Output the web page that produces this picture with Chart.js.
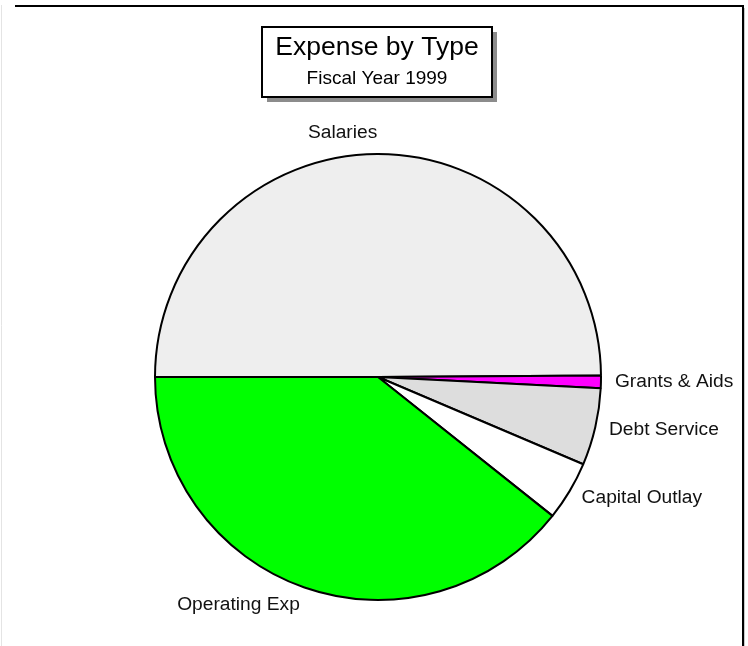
<!DOCTYPE html>
<html>
<head>
<meta charset="utf-8">
<script src="https://cdn.jsdelivr.net/npm/chart.js@4/dist/chart.umd.min.js"></script>
<style>
html,body{margin:0;padding:0;background:#fff;}
#wrap{position:relative;width:748px;height:646px;}
canvas{display:block;}
</style>
</head>
<body>
<div id="wrap"><canvas id="c" width="748" height="646"></canvas></div>
<script>
const categories = ["Salaries", "Grants & Aids", "Debt Service", "Capital Outlay", "Operating Exp"];
const values = [49.9, 0.9, 5.6, 4.3, 39.3];
const sliceColors = ["#eeeeee", "#ff00ff", "#dddddd", "#ffffff", "#00ff00"];
const titleText = "Expense by Type";
const subtitleText = "Fiscal Year 1999";

const FONT = '"Liberation Sans", Arial, sans-serif';

const framePlugin = {
  id: 'frame',
  beforeDraw(chart) {
    const ctx = chart.ctx;
    ctx.save();
    ctx.fillStyle = '#ffffff';
    ctx.fillRect(0, 0, chart.width, chart.height);
    ctx.strokeStyle = '#e4e4e4';
    ctx.lineWidth = 1;
    ctx.beginPath(); ctx.moveTo(1.5, 5); ctx.lineTo(1.5, chart.height); ctx.stroke();
    ctx.strokeStyle = '#000000';
    ctx.lineWidth = 2;
    ctx.beginPath();
    ctx.moveTo(15, 6); ctx.lineTo(743, 6); ctx.lineTo(743, chart.height);
    ctx.stroke();
    ctx.strokeStyle = '#c8c8c8';
    ctx.lineWidth = 1;
    ctx.beginPath(); ctx.moveTo(744.5, 8); ctx.lineTo(744.5, chart.height); ctx.stroke();
    ctx.restore();
  }
};

const titlePlugin = {
  id: 'titleBox',
  afterDraw(chart) {
    const ctx = chart.ctx;
    const x = 262, y = 27, w = 230, h = 70;
    ctx.save();
    ctx.fillStyle = '#8c8c8c';
    ctx.fillRect(x + 5, y + 5, w, h);
    ctx.fillStyle = '#ffffff';
    ctx.fillRect(x, y, w, h);
    ctx.strokeStyle = '#000';
    ctx.lineWidth = 2;
    ctx.strokeRect(x, y, w, h);
    ctx.fillStyle = '#000';
    ctx.textAlign = 'center';
    ctx.textBaseline = 'middle';
    ctx.font = '26.5px ' + FONT;
    ctx.fillText(titleText, x + w / 2, y + 21);
    ctx.font = '19px ' + FONT;
    ctx.fillText(subtitleText, x + w / 2, y + 52);
    ctx.restore();
  }
};

const labelPlugin = {
  id: 'sliceLabels',
  afterDatasetsDraw(chart) {
    const ctx = chart.ctx;
    const meta = chart.getDatasetMeta(0);
    ctx.save();
    ctx.fillStyle = '#111';
    ctx.font = '19.2px ' + FONT;
    meta.data.forEach((arc, i) => {
      const p = arc.getProps(['x', 'y', 'startAngle', 'endAngle', 'outerRadius'], true);
      const mid = (p.startAngle + p.endAngle) / 2;
      const c = Math.cos(mid), s = Math.sin(mid);
      const r = p.outerRadius + 14;
      const lx = p.x + r * c;
      const ly = p.y + r * s + 6 * s * s * s - 1;
      ctx.textAlign = c > 0.01 ? 'left' : 'right';
      ctx.textBaseline = 'middle';
      ctx.fillText(categories[i], lx, ly);
    });
    ctx.restore();
  }
};

new Chart(document.getElementById('c'), {
  type: 'pie',
  data: {
    labels: categories,
    datasets: [{
      data: values,
      backgroundColor: sliceColors,
      borderColor: '#000000',
      borderWidth: 2,
      borderAlign: 'center'
    }]
  },
  options: {
    responsive: false,
    animation: false,
    rotation: -90,
    layout: { padding: { top: 152, bottom: 44, left: 154, right: 146 } },
    plugins: {
      legend: { display: false },
      tooltip: { enabled: false },
      title: { display: false }
    }
  },
  plugins: [framePlugin, labelPlugin, titlePlugin]
});
</script>
</body>
</html>
